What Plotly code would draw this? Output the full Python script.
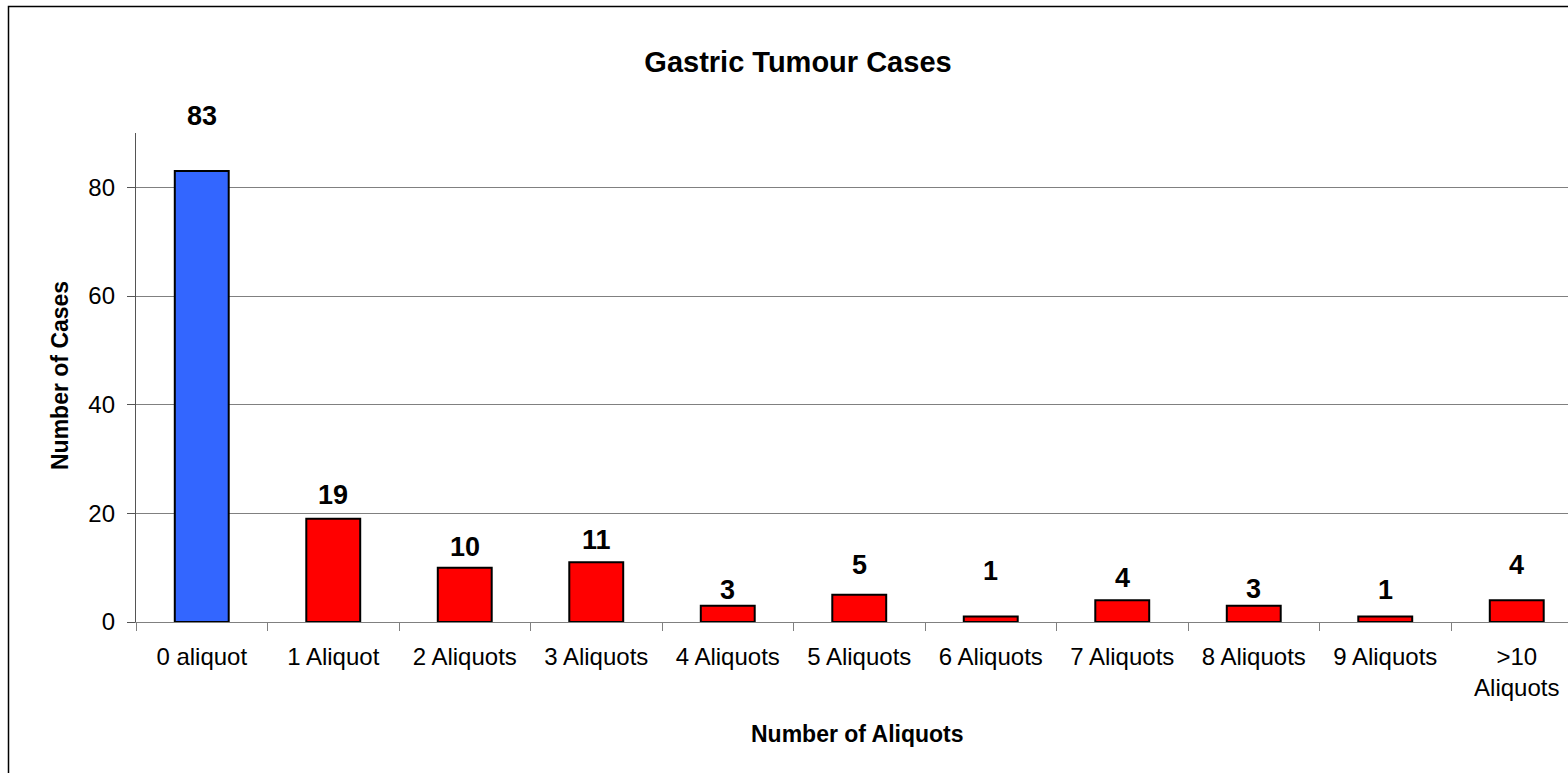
import plotly.graph_objects as go

categories = ["0 aliquot", "1 Aliquot", "2 Aliquots", "3 Aliquots", "4 Aliquots",
              "5 Aliquots", "6 Aliquots", "7 Aliquots", "8 Aliquots", "9 Aliquots",
              ">10<br>Aliquots"]
cases = [83, 19, 10, 11, 3, 5, 1, 4, 3, 1, 4]

# styling (not data)
bar_colors = ["#3366FF"] + ["#FF0000"] * (len(cases) - 1)
label_shift = [55, 24, 21, 22, 16, 30, 46, 22, 17, 27, 35]  # px above bar top

FONT = "Liberation Sans, Arial, sans-serif"

W, H = 1568, 773
L, T = 136, 133
ph = 489
B = H - T - ph
pw = W - L
cat_px = 131.5

fig = go.Figure()
fig.add_trace(go.Bar(
    x=categories, y=cases, width=0.41,
    marker=dict(color=bar_colors, line=dict(color="black", width=2)),
    showlegend=False, hoverinfo="x+y",
))

for c, v, s in zip(categories, cases, label_shift):
    fig.add_annotation(x=c, y=v, text=f"<b>{v}</b>", showarrow=False,
                       yanchor="middle", yshift=s,
                       font=dict(family=FONT, size=27, color="black"))

fig.update_layout(
    width=W, height=H,
    margin=dict(l=L, r=0, t=T, b=B, pad=0),
    paper_bgcolor="white", plot_bgcolor="white",
    font=dict(family=FONT, size=24, color="black"),
    title=dict(text="<b>Gastric Tumour Cases</b>", x=798 / W, xanchor="center",
               y=1 - 62 / H, yanchor="middle",
               font=dict(family=FONT, size=29, color="black")),
    bargap=0.59,
)
fig.update_xaxes(
    type="category", range=[-0.5, -0.5 + pw / cat_px],
    showline=True, linecolor="#808080", linewidth=1.3,
    ticks="outside", tickson="boundaries", ticklen=8, tickcolor="#808080", tickwidth=1.3,
    showgrid=False, tickfont=dict(size=24, family=FONT, color="black"),
    ticklabelstandoff=13,
)
fig.update_yaxes(
    range=[0, 90], tickvals=[0, 20, 40, 60, 80],
    showline=True, linecolor="#555555", linewidth=1.3,
    ticks="outside", ticklen=8, tickcolor="#555555", tickwidth=1.3,
    showgrid=True, gridcolor="#808080", gridwidth=1.3,
    zeroline=False, tickfont=dict(size=24, family=FONT, color="black"),
    ticklabelstandoff=7,
)

fig.add_annotation(text="<b>Number of Aliquots</b>", xref="paper", yref="paper",
                   x=(857 - L) / pw, y=(622 - 734) / ph, showarrow=False,
                   xanchor="center", yanchor="middle",
                   font=dict(family=FONT, size=23, color="black"))
fig.add_annotation(text="<b>Number of Cases</b>", xref="paper", yref="paper",
                   x=(60 - L) / pw, y=(622 - 376) / ph, showarrow=False, textangle=-90,
                   xanchor="center", yanchor="middle",
                   font=dict(family=FONT, size=23, color="black"))

fig.add_shape(type="rect", xref="paper", yref="paper",
              x0=(8.5 - L) / pw, x1=1.2, y0=-0.6, y1=(622 - 6.5) / ph,
              line=dict(color="black", width=1.5), fillcolor="rgba(0,0,0,0)", layer="below")

fig.write_html("out.html",
               config={"displayModeBar": False},
               post_script="document.body.style.margin='0';document.body.style.overflow='hidden';")
